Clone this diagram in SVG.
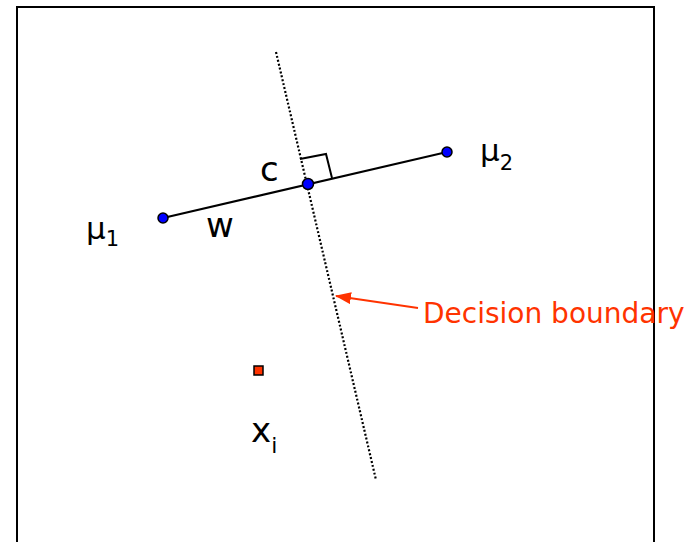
<svg xmlns="http://www.w3.org/2000/svg" width="695" height="542" viewBox="0 0 695 542">
<style>
.t{font-family:"DejaVu Sans",Verdana,sans-serif;fill:#000}
.dot{fill:#0000ff;stroke:#000;stroke-width:1.5}
</style>
<defs>
<marker id="ah" markerWidth="16" markerHeight="12" refX="15" refY="6" orient="auto" markerUnits="userSpaceOnUse">
<path d="M0,0 L16,6 L0,12 Z" fill="#ff3300"/>
</marker>
</defs>
<rect x="0" y="0" width="695" height="542" fill="#fff"/>
<rect id="frame" x="17" y="7" width="637" height="560" fill="none" stroke="#000" stroke-width="2"/>
<g id="connectors">
<line x1="276" y1="52" x2="376" y2="480" stroke="#000" stroke-width="2.2" stroke-dasharray="2,2"/>
<line x1="163" y1="218" x2="447" y2="152" stroke="#000" stroke-width="2"/>
<polyline points="300,159 326,154 332,178" fill="none" stroke="#000" stroke-width="2"/>
<line x1="418" y1="308" x2="336" y2="296" stroke="#ff3300" stroke-width="2" marker-end="url(#ah)"/>
</g>
<g id="mu1"><circle class="dot" cx="163" cy="218" r="5"/>
<text class="t" x="86" y="239" font-size="31">μ<tspan font-size="21" dy="7">1</tspan></text></g>
<g id="mu2"><circle class="dot" cx="447" cy="152" r="5"/>
<text class="t" x="480" y="161" font-size="31">μ<tspan font-size="21" dy="9">2</tspan></text></g>
<g id="c"><circle class="dot" cx="308" cy="184" r="5.5"/>
<text class="t" x="260" y="181" font-size="34">c</text></g>
<g id="w"><text class="t" x="206" y="237" font-size="34">w</text></g>
<g id="xi"><rect x="254" y="366" width="9" height="9" fill="#ff3300" stroke="#000" stroke-width="1.5"/>
<text class="t" x="251" y="442" font-size="34">x<tspan font-size="22" dy="11">i</tspan></text></g>
<g id="label"><text x="423" y="323" font-size="28" font-family="DejaVu Sans,Verdana,sans-serif" fill="#ff3300">Decision boundary</text></g>
</svg>
